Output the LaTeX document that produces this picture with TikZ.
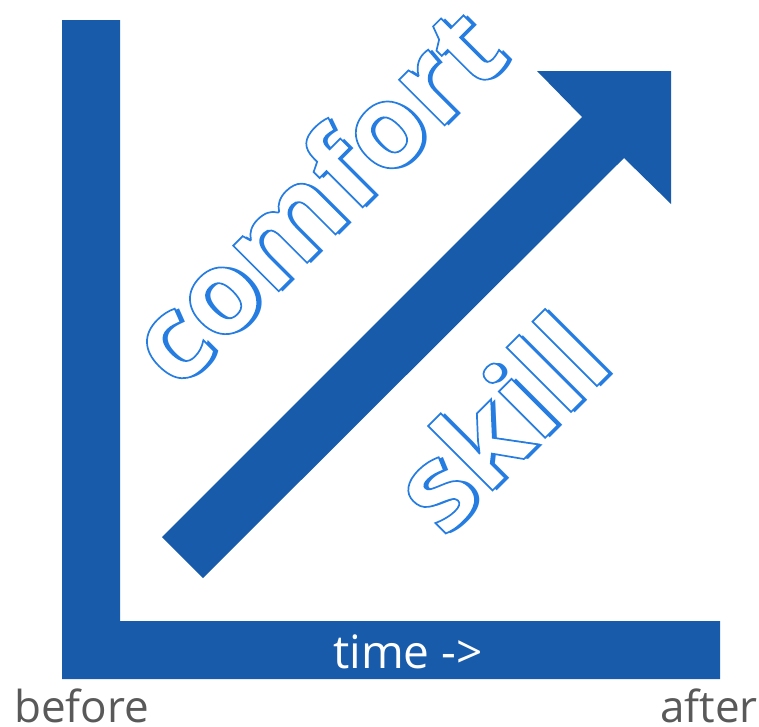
\documentclass[tikz,border=0pt]{standalone}
\usepackage{fontspec}
\setmainfont{Open Sans}
\usetikzlibrary{calc}
\definecolor{barblue}{RGB}{24,91,170}
\definecolor{lineblue}{RGB}{38,125,225}
\definecolor{labelgray}{RGB}{89,89,89}
\newcommand\outlinedword[1]{\special{pdf:literal direct 2 Tr 1.7 w 0.149 0.490 0.882 RG}#1\special{pdf:literal direct 0 Tr}}
\tikzset{
  wordfont/.style={font=\fontsize{120}{120}\selectfont\bfseries, inner sep=0pt, anchor=base, rotate=45},
  comfortfont/.style={wordfont, font=\fontsize{118}{118}\selectfont\bfseries},
  wordshadow/.style={text=lineblue},
  wordface/.style={text=white},
  sidelabel/.style={font=\fontsize{44}{44}\selectfont, text=labelgray, inner sep=0pt},
  timelabel/.style={font=\fontsize{46}{46}\selectfont, text=white, inner sep=0pt},
}
\begin{document}
\begin{tikzpicture}[x=1pt,y=-1pt]
\useasboundingbox (0,0) rectangle (759,726);
% axes
\fill[barblue] (62,20) -- (120,20) -- (120,621) -- (720,621) -- (720,679) -- (62,679) -- cycle;
% diagonal arrow
\coordinate (tailA) at (162,537);
\coordinate (tailB) at (203,578);
\coordinate (notchA) at (582,117);
\coordinate (notchB) at (624,158);
\coordinate (headL) at (537,71);
\coordinate (headB) at (671,204);
\coordinate (tip) at (671,71);
\fill[barblue] (tailA) -- (notchA) -- (headL) -- (tip) -- (headB) -- (notchB) -- (tailB) -- cycle;
% comfort
\coordinate (comfortPos) at (345,225);
\node[comfortfont, wordshadow] (comfortShadow) at ($(comfortPos)+(4.5,0.5)$) {comfort};
\node[comfortfont, wordface] (comfortWord) at (comfortPos) {\outlinedword{comfort}};
% skill
\coordinate (skillPos) at (530,453);
\node[wordfont, wordshadow] (skillShadow) at ($(skillPos)+(4.5,0.5)$) {skill};
\node[wordfont, wordface] (skillWord) at (skillPos) {\outlinedword{skill}};
% labels
\node[timelabel, anchor=base west] (timeText) at (333,668) {time ->};
\node[sidelabel, anchor=base west] (beforeText) at (14,722) {before};
\node[sidelabel, anchor=base east] (afterText) at (758,722) {after};
\end{tikzpicture}
\end{document}
